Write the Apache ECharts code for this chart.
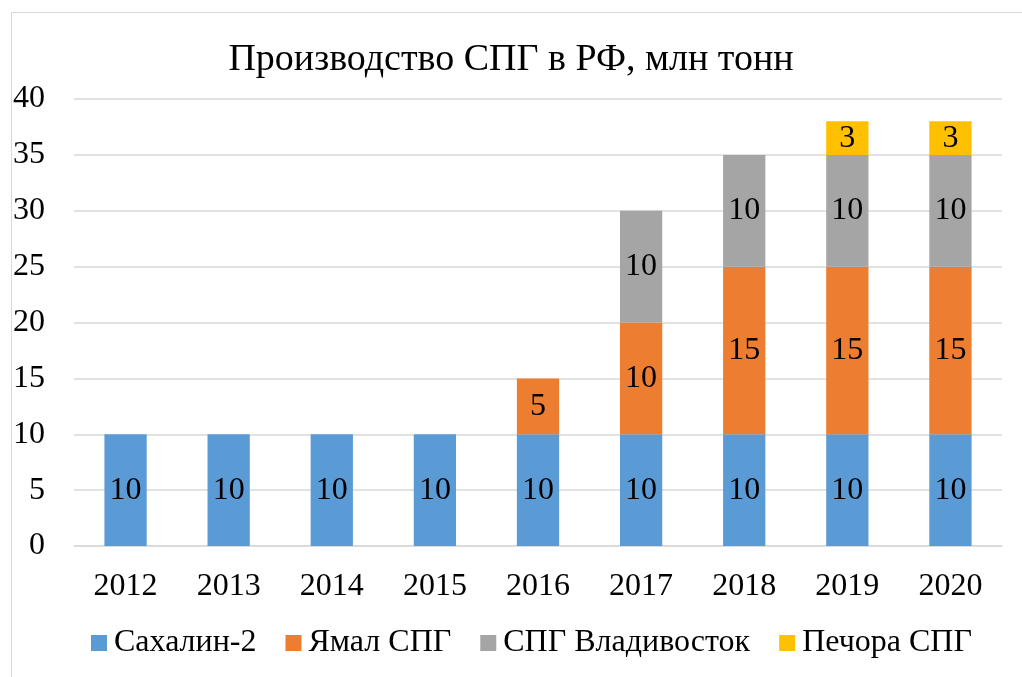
<!DOCTYPE html>
<html>
<head>
<meta charset="utf-8">
<script src="https://cdn.jsdelivr.net/npm/echarts@6/dist/echarts.min.js"></script>
<style>
  html, body { margin: 0; padding: 0; background: #fff; }
  #main { width: 1022px; height: 677px; }
</style>
</head>
<body>
<div id="main"></div>
<script>
var years = ['2012', '2013', '2014', '2015', '2016', '2017', '2018', '2019', '2020'];
var sakhalin = [10, 10, 10, 10, 10, 10, 10, 10, 10];
var yamal = [null, null, null, null, 5, 10, 15, 15, 15];
var vladivostok = [null, null, null, null, null, 10, 10, 10, 10];
var pechora = [null, null, null, null, null, null, null, 3, 3];
var seriesNames = ['Сахалин-2', 'Ямал СПГ', 'СПГ Владивосток', 'Печора СПГ'];
var colors = ['#5B9BD5', '#ED7D31', '#A5A5A5', '#FFC000'];

var font = '"Liberation Serif", "Times New Roman", serif';
var myChart = echarts.init(document.getElementById('main'));

function makeSeries(name, data, color) {
    return {
        name: name,
        type: 'bar',
        stack: 'total',
        barWidth: '41%',
        data: data,
        itemStyle: { color: color },
        label: {
            show: true,
            position: 'inside',
            color: '#000',
            fontFamily: font,
            fontSize: 32
        }
    };
}

myChart.setOption({
    animation: false,
    color: colors,
    title: {
        text: 'Производство СПГ в РФ, млн тонн',
        left: 'center',
        top: 36,
        textStyle: { fontFamily: font, fontSize: 38, fontWeight: 'normal', color: '#000' }
    },
    graphic: [{
        type: 'rect',
        shape: { x: 11.5, y: 12.5, width: 1030, height: 700 },
        style: { fill: 'none', stroke: '#d9d9d9', lineWidth: 1 },
        silent: true
    }],
    legend: {
        bottom: 13,
        left: 86,
        itemWidth: 16,
        itemHeight: 16,
        itemGap: 29,
        icon: 'rect',
        textStyle: { fontFamily: font, fontSize: 32, color: '#000', padding: [0, 0, 0, 2] },
        data: seriesNames
    },
    grid: { left: 74, right: 20, top: 99, bottom: 131 },
    xAxis: {
        type: 'category',
        data: years,
        axisTick: { show: false },
        axisLine: { lineStyle: { color: '#d9d9d9', width: 1.5 } },
        axisLabel: { fontFamily: font, fontSize: 32, color: '#000', margin: 25 }
    },
    yAxis: {
        type: 'value',
        min: 0,
        max: 40,
        interval: 5,
        axisLabel: { fontFamily: font, fontSize: 32, color: '#000', margin: 29 },
        splitLine: { lineStyle: { color: '#d9d9d9', width: 1.5 } }
    },
    series: [
        makeSeries(seriesNames[0], sakhalin, colors[0]),
        makeSeries(seriesNames[1], yamal, colors[1]),
        makeSeries(seriesNames[2], vladivostok, colors[2]),
        makeSeries(seriesNames[3], pechora, colors[3])
    ]
});
</script>
</body>
</html>
